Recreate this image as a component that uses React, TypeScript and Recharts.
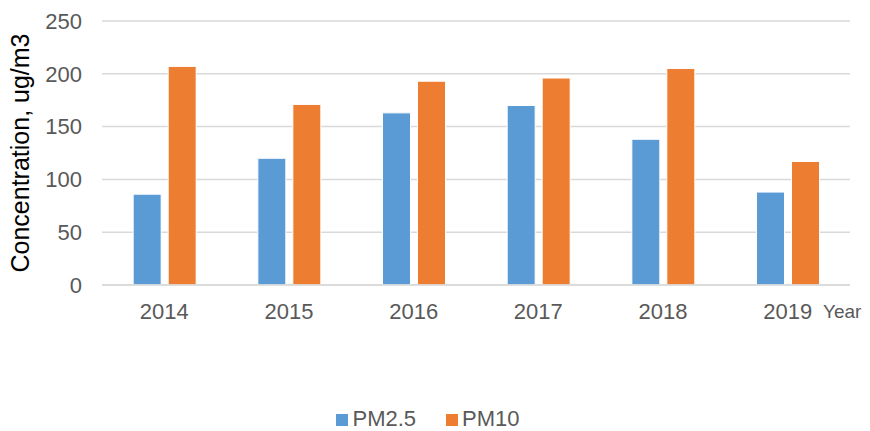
import React from 'react';
import { BarChart, Bar, XAxis, YAxis, CartesianGrid, Legend } from 'recharts';

const years = ['2014', '2015', '2016', '2017', '2018', '2019'];
const pm25 = [86, 120, 163, 170, 138, 88];
const pm10 = [207, 171, 193, 196, 205, 117];
const yTicks = [0, 50, 100, 150, 200, 250];

const data = years.map((year, i) => ({ year, pm25: pm25[i], pm10: pm10[i] }));

const font = 'Liberation Sans, Arial, sans-serif';
const seriesOrder: Record<string, number> = { pm25: 0, pm10: 1 };

const YearLabel = (props: any) => {
  const { viewBox } = props;
  return (
    <text x={viewBox.x + viewBox.width - 27} y={viewBox.y + 28} fill="#595959" fontSize={19} fontFamily={font} textAnchor="start" dominantBaseline="middle">
      Year
    </text>
  );
};

export default function App() {
  return (
    <div style={{ position: 'absolute', left: 0, top: 0, width: 870, height: 431, background: '#fff' }}>
      <BarChart
        width={870}
        height={431}
        data={data}
        margin={{ top: 21, right: 20, bottom: 0, left: 0 }}
        barCategoryGap="25%"
        barGap={7}
      >
        <CartesianGrid vertical={false} stroke="#d9d9d9" strokeWidth={1.5} />
        <XAxis
          dataKey="year"
          axisLine={{ stroke: '#d9d9d9', strokeWidth: 1.5 }}
          tickLine={false}
          height={122}
          tickMargin={12}
          tick={{ fill: '#595959', fontSize: 22, fontFamily: font }}
          label={<YearLabel />}
        />
        <YAxis
          domain={[0, 250]}
          ticks={yTicks}
          width={102}
          axisLine={false}
          tickLine={false}
          tickMargin={14}
          tick={{ fill: '#595959', fontSize: 22, fontFamily: font }}
          label={{ value: 'Concentration, ug/m3', angle: -90, position: 'insideLeft', offset: 20, style: { fill: '#000', fontSize: 25, fontFamily: font, textAnchor: 'middle' } }}
        />
        <Legend
          verticalAlign="bottom"
          align="center"
          iconType="square"
          iconSize={12}
          height={24}
          itemSorter={(item: any) => seriesOrder[item.dataKey] ?? 0}
          wrapperStyle={{ fontFamily: font, fontSize: 22, lineHeight: '24px', paddingLeft: 18 }}
          formatter={(v: string) => <span style={{ color: '#595959', marginRight: 20 }}>{v}</span>}
        />
        <Bar dataKey="pm25" name="PM2.5" fill="#5B9BD5" stroke="#fff" strokeWidth={1} isAnimationActive={false} />
        <Bar dataKey="pm10" name="PM10" fill="#ED7D31" stroke="#fff" strokeWidth={1} isAnimationActive={false} />
      </BarChart>
    </div>
  );
}
